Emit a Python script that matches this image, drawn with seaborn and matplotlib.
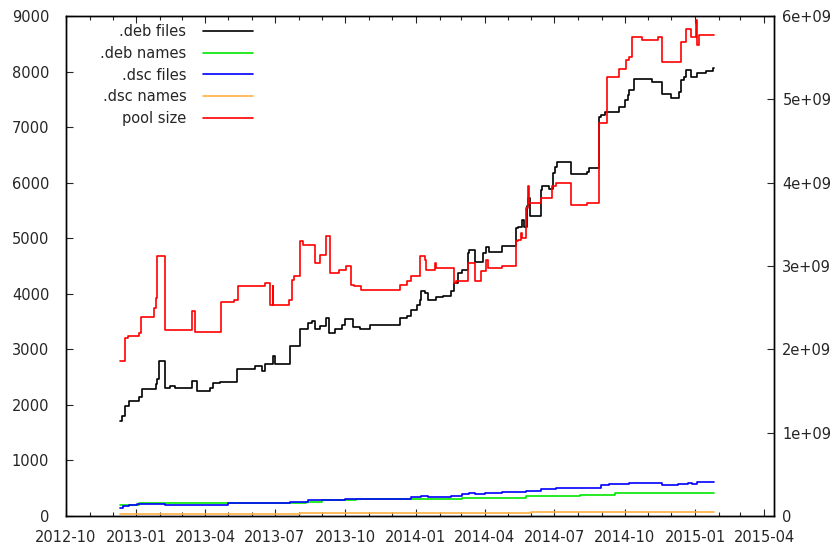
import pandas as pd
import seaborn as sns
import matplotlib
matplotlib.use('Agg')
import matplotlib.pyplot as plt
import matplotlib.dates as mdates
from matplotlib.ticker import FuncFormatter, MultipleLocator

# .deb files (left axis)
deb_files_dates = ["2012-12-11", "2012-12-13", "2012-12-17", "2012-12-22", "2013-01-05", "2013-01-08",
                   "2013-01-26", "2013-01-28", "2013-01-30", "2013-02-07", "2013-02-14", "2013-02-20",
                   "2013-03-15", "2013-03-21", "2013-04-07", "2013-04-11", "2013-04-20", "2013-05-12",
                   "2013-06-05", "2013-06-14", "2013-06-18", "2013-06-28", "2013-07-01", "2013-07-21",
                   "2013-08-03", "2013-08-13", "2013-08-18", "2013-08-22", "2013-08-29", "2013-09-06",
                   "2013-09-10", "2013-09-17", "2013-09-26", "2013-09-30", "2013-10-11", "2013-10-20",
                   "2013-11-02", "2013-12-11", "2013-12-20", "2013-12-26", "2014-01-02", "2014-01-06",
                   "2014-01-08", "2014-01-13", "2014-01-17", "2014-01-28", "2014-02-05", "2014-02-16",
                   "2014-02-20", "2014-02-25", "2014-03-02", "2014-03-10", "2014-03-12", "2014-03-20",
                   "2014-03-30", "2014-04-03", "2014-04-07", "2014-04-23", "2014-05-12", "2014-05-14",
                   "2014-05-20", "2014-05-22", "2014-05-26", "2014-05-28", "2014-05-30", "2014-06-13",
                   "2014-06-15", "2014-06-24", "2014-06-29", "2014-07-02", "2014-07-04", "2014-07-23",
                   "2014-08-13", "2014-08-15", "2014-08-29", "2014-08-31", "2014-09-05", "2014-09-24",
                   "2014-10-01", "2014-10-05", "2014-10-07", "2014-10-13", "2014-11-05", "2014-11-19",
                   "2014-12-01", "2014-12-11", "2014-12-14", "2014-12-18", "2014-12-20", "2014-12-27",
                   "2015-01-04", "2015-01-15", "2015-01-24", "2015-01-26"]
deb_files = [1710, 1800, 1980, 2070, 2135, 2280,
             2370, 2460, 2790, 2310, 2340, 2310,
             2430, 2250, 2310, 2385, 2410, 2640,
             2700, 2605, 2730, 2880, 2730, 3060,
             3360, 3465, 3505, 3356, 3415, 3566,
             3297, 3356, 3428, 3536, 3404, 3369,
             3428, 3566, 3595, 3715, 3805, 3895,
             4057, 4021, 3895, 3944, 3967, 4044,
             4195, 4375, 4434, 4735, 4781, 4566,
             4735, 4842, 4745, 4866, 5184, 5202,
             5333, 5202, 5572, 5723, 5405, 5872,
             5932, 5885, 6172, 6291, 6381, 6155,
             6201, 6262, 7190, 7220, 7280, 7370,
             7490, 7580, 7669, 7862, 7819, 7598,
             7532, 7639, 7850, 7898, 8029, 7898,
             7981, 8017, 8071, 8071]

# .deb names (left axis)
deb_names_dates = ["2012-12-11", "2013-01-04", "2013-06-15", "2013-08-10", "2013-09-01", "2013-10-15",
                   "2014-03-03", "2014-05-25", "2014-08-03", "2014-09-18", "2015-01-26"]
deb_names = [192, 223, 235, 252, 288, 300, 318, 360, 378, 403, 403]

# .dsc files (left axis)
dsc_files_dates = ["2012-12-11", "2012-12-15", "2012-12-22", "2013-01-02", "2013-02-07", "2013-05-01",
                   "2013-07-21", "2013-08-13", "2013-09-10", "2013-09-30", "2013-12-26", "2014-01-08",
                   "2014-01-17", "2014-02-16", "2014-03-03", "2014-03-12", "2014-03-19", "2014-04-01",
                   "2014-04-23", "2014-05-25", "2014-06-13", "2014-07-03", "2014-08-31", "2014-09-10",
                   "2014-10-07", "2014-11-19", "2014-12-09", "2014-12-22", "2014-12-28", "2015-01-04",
                   "2015-01-26"]
dsc_files = [138, 169, 192, 210, 204, 228,
             252, 288, 282, 300, 331, 349,
             331, 360, 390, 408, 390, 408,
             431, 449, 480, 510, 552, 570,
             588, 564, 582, 600, 582, 611,
             615]

# .dsc names (left axis)
dsc_names_dates = ["2012-12-11", "2013-08-03", "2014-06-01", "2015-01-26"]
dsc_names = [35, 60, 65, 65]

# pool size (right axis, bytes)
pool_dates = ["2012-12-11", "2012-12-17", "2012-12-21", "2013-01-04", "2013-01-07", "2013-01-24",
              "2013-01-26", "2013-01-28", "2013-02-07", "2013-03-15", "2013-03-18", "2013-04-21",
              "2013-05-08", "2013-05-14", "2013-06-18", "2013-06-25", "2013-06-28", "2013-06-29",
              "2013-07-19", "2013-07-23", "2013-07-26", "2013-08-03", "2013-08-07", "2013-08-22",
              "2013-08-29", "2013-09-06", "2013-09-11", "2013-09-23", "2013-10-02", "2013-10-08",
              "2013-10-12", "2013-10-21", "2013-12-11", "2013-12-20", "2013-12-26", "2014-01-07",
              "2014-01-13", "2014-01-15", "2014-01-26", "2014-01-28", "2014-02-20", "2014-02-23",
              "2014-03-10", "2014-03-19", "2014-03-27", "2014-04-03", "2014-04-05", "2014-04-23",
              "2014-05-12", "2014-05-14", "2014-05-19", "2014-05-20", "2014-05-25", "2014-05-28",
              "2014-05-29", "2014-06-13", "2014-06-28", "2014-07-03", "2014-07-23", "2014-08-13",
              "2014-08-28", "2014-08-29", "2014-09-08", "2014-09-24", "2014-10-02", "2014-10-07",
              "2014-10-11", "2014-10-24", "2014-11-13", "2014-11-19", "2014-12-14", "2014-12-20",
              "2014-12-27", "2015-01-02", "2015-01-04", "2015-01-06", "2015-01-26"]
pool_size = [1.857e9, 2.138e9, 2.157e9, 2.198e9, 2.389e9, 2.497e9,
             2.617e9, 3.116e9, 2.237e9, 2.465e9, 2.205e9, 2.564e9,
             2.597e9, 2.756e9, 2.797e9, 2.537e9, 2.756e9, 2.528e9,
             2.597e9, 2.836e9, 2.876e9, 3.295e9, 3.256e9, 3.037e9,
             3.136e9, 3.355e9, 2.917e9, 2.950e9, 2.996e9, 2.776e9,
             2.756e9, 2.717e9, 2.776e9, 2.816e9, 2.876e9, 3.116e9,
             3.076e9, 2.956e9, 3.036e9, 2.976e9, 2.797e9, 2.816e9,
             3.037e9, 2.816e9, 2.936e9, 3.076e9, 2.976e9, 2.996e9,
             3.295e9, 3.315e9, 3.396e9, 3.335e9, 3.696e9, 3.954e9,
             3.756e9, 3.815e9, 3.954e9, 3.995e9, 3.735e9, 3.756e9,
             4.714e9, 4.721e9, 5.273e9, 5.361e9, 5.473e9, 5.512e9,
             5.745e9, 5.713e9, 5.752e9, 5.452e9, 5.692e9, 5.840e9,
             5.752e9, 5.952e9, 5.652e9, 5.772e9, 5.772e9]

left_series = [
    (".deb files", deb_files_dates, deb_files, "#000000"),
    (".deb names", deb_names_dates, deb_names, "#00e600"),
    (".dsc files", dsc_files_dates, dsc_files, "#0000ff"),
    (".dsc names", dsc_names_dates, dsc_names, "#ffb040"),
]

sns.set_style("ticks")
plt.rcParams['font.family'] = ['DejaVu Sans']
plt.rcParams['font.size'] = 10.5

fig = plt.figure(figsize=(8.32, 5.45), dpi=100)
ax = fig.add_axes([0.0793, 0.0535, 0.851, 0.917])
ax2 = ax.twinx()

for name, dates, vals, col in left_series:
    d = pd.DataFrame({'date': pd.to_datetime(dates), 'value': vals})
    sns.lineplot(data=d, x='date', y='value', ax=ax, color=col, linewidth=1.2,
                 drawstyle='steps-post', estimator=None, label=name, legend=False)

pool = pd.DataFrame({'date': pd.to_datetime(pool_dates), 'value': pool_size})
sns.lineplot(data=pool, x='date', y='value', ax=ax2, color="#ff0000", linewidth=1.2,
             drawstyle='steps-post', estimator=None, label="pool size", legend=False)

ax.set_xlim(pd.Timestamp("2012-10-01"), pd.Timestamp("2015-04-14"))
ax.set_ylim(0, 9000)
ax2.set_ylim(0, 6e9)
ax.set_xlabel("")
ax.set_ylabel("")
ax2.set_ylabel("")

ax.xaxis.set_major_locator(mdates.MonthLocator(bymonth=[1, 4, 7, 10]))
ax.xaxis.set_minor_locator(mdates.MonthLocator())
ax.xaxis.set_major_formatter(mdates.DateFormatter("%Y-%m"))
ax.yaxis.set_major_locator(MultipleLocator(1000))
ax2.yaxis.set_major_locator(MultipleLocator(1e9))
ax2.yaxis.set_major_formatter(FuncFormatter(lambda v, p: "0" if v == 0 else f"{v:.0e}"))

ax.tick_params(axis='x', which='major', direction='in', length=5, width=0.8, top=True, pad=10)
ax.tick_params(axis='x', which='minor', direction='in', length=3, width=0.8, top=True)
ax.tick_params(axis='y', which='major', direction='in', length=5, width=0.8, pad=12, right=False)
ax2.tick_params(axis='y', which='major', direction='in', length=5, width=0.8, pad=6)

for a in (ax, ax2):
    for s in a.spines.values():
        s.set_color("black")
        s.set_linewidth(1)

handles = ax.get_lines()[:4] + ax2.get_lines()[:1]
labels = [h.get_label() for h in handles]
ax2.legend(handles, labels, loc='upper right', bbox_to_anchor=(0.272, 0.995), frameon=False,
           markerfirst=False, handlelength=3.4, handletextpad=1.15, labelspacing=0.45,
           borderaxespad=0, fontsize=10.5)

fig.savefig("out.png", dpi=100)
